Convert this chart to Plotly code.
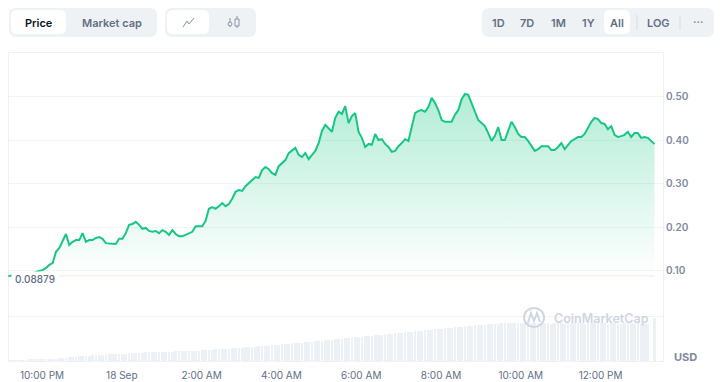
import pandas as pd
import plotly.graph_objects as go

START = "2023-09-17 21:11"
STEP = "5min"
BASELINE = 0.08879
PRICES = [
 .089,.089,.090,.090,.091,.091,.092,.093,.098,.100,.102,.107,.114,.118,.144,.153,.171,.185,.160,.167,
 .171,.171,.187,.167,.171,.171,.176,.178,.174,.164,.163,.162,.162,.174,.174,.187,.206,.208,.213,.206,
 .197,.199,.192,.190,.192,.187,.194,.190,.183,.194,.185,.180,.180,.183,.187,.190,.203,.203,.203,.215,
 .243,.247,.243,.249,.256,.249,.254,.266,.282,.286,.284,.295,.302,.307,.316,.314,.332,.339,.334,.325,
 .321,.341,.348,.355,.371,.378,.383,.367,.362,.371,.357,.367,.376,.394,.422,.436,.429,.420,.452,.466,
 .461,.479,.440,.456,.463,.420,.406,.385,.392,.390,.415,.401,.403,.392,.385,.374,.376,.387,.394,.403,
 .399,.431,.463,.468,.470,.466,.477,.498,.486,.470,.447,.443,.443,.443,.459,.470,.495,.507,.505,.486,
 .470,.447,.440,.433,.417,.399,.410,.431,.401,.401,.422,.443,.431,.415,.408,.408,.399,.387,.376,.380,
 .387,.387,.387,.378,.378,.385,.394,.380,.390,.399,.403,.408,.408,.415,.429,.443,.452,.449,.440,.438,
 .426,.433,.413,.408,.410,.413,.420,.408,.417,.417,.406,.408,.406,.399,.392,
]
VOLUMES = [
 5,5,8,8,10,10,12,12,15,15,
 15,15,18,20,25,28,30,35,40,42,
 45,48,50,52,55,58,60,60,62,65,
 68,68,70,72,72,75,78,80,80,82,
 85,88,88,90,90,92,92,95,95,95,
 98,98,100,100,102,102,105,105,108,110,
 112,115,118,120,120,122,125,128,130,132,
 135,138,140,142,145,148,150,152,155,158,
 160,165,168,170,175,178,180,182,185,188,
 190,195,198,200,205,208,210,215,218,220,
 225,228,232,235,238,240,245,248,250,255,
 258,260,265,268,270,275,278,280,285,288,
 290,295,298,300,305,308,310,315,318,320,
 325,328,330,335,338,340,345,348,350,355,
 358,360,362,365,368,370,372,375,378,380,
 380,382,378,380,382,378,380,378,380,382,
 378,380,378,375,378,380,378,375,378,380,
 378,380,378,375,378,380,382,378,380,378,
 375,378,380,378,375,378,380,378,375,378,
 375,378,375,0,430,
]
Y_TICKS = [0.10, 0.20, 0.30, 0.40, 0.50]
Y_LABELS = ["0.10", "0.20", "0.30", "0.40", "0.50"]
X_TICKS = ["2023-09-17 22:00", "2023-09-18 00:00", "2023-09-18 02:00", "2023-09-18 04:00",
           "2023-09-18 06:00", "2023-09-18 08:00", "2023-09-18 10:00", "2023-09-18 12:00"]
X_LABELS = ["10:00 PM", "18 Sep", "2:00 AM", "4:00 AM", "6:00 AM", "8:00 AM", "10:00 AM", "12:00 PM"]
RANGE_LABELS = ["1D", "7D", "1M", "1Y", "All", "LOG"]

times = pd.date_range(START, periods=len(PRICES), freq=STEP)

L, R, T, B = 9, 663, 53, 361
W, H = 722, 382
FONT = "Inter, Noto Sans, sans-serif"
GREY = "#616e85"
PANEL = "#eff2f5"


def px(x):
    return (x - L) / (R - L)


def py(y):
    return (B - y) / (B - T)


def rrect(x0, y0, x1, y1, r, color):
    p = (f"M {px(x0 + r)} {py(y0)} L {px(x1 - r)} {py(y0)} Q {px(x1)} {py(y0)} {px(x1)} {py(y0 + r)} "
         f"L {px(x1)} {py(y1 - r)} Q {px(x1)} {py(y1)} {px(x1 - r)} {py(y1)} "
         f"L {px(x0 + r)} {py(y1)} Q {px(x0)} {py(y1)} {px(x0)} {py(y1 - r)} "
         f"L {px(x0)} {py(y0 + r)} Q {px(x0)} {py(y0)} {px(x0 + r)} {py(y0)} Z")
    return dict(type="path", xref="paper", yref="paper", path=p, fillcolor=color, line_width=0, layer="below")


def stroke(points, color="#8592a8", width=1):
    p = "M " + " L ".join(f"{px(a)} {py(b)}" for a, b in points)
    return dict(type="path", xref="paper", yref="paper", path=p, line=dict(color=color, width=width))


def label(x, y, text, color=GREY, size=11, weight=600, **kw):
    return dict(xref="paper", yref="paper", x=px(x), y=py(y), text=text, showarrow=False,
                xanchor="center", yanchor="middle",
                font=dict(family=FONT, size=size, color=color, weight=weight), **kw)


fig = go.Figure()
fig.add_trace(go.Bar(x=times, y=VOLUMES, yaxis="y2", marker=dict(color="#edf0f4", line_width=0),
                     width=2.5 * 60 * 1000 * 1.6, hoverinfo="skip"))
fig.add_trace(go.Scatter(x=times, y=[BASELINE] * len(times), mode="lines",
                         line=dict(color="rgba(234,57,67,0.14)", width=1), hoverinfo="skip"))
fig.add_trace(go.Scatter(x=times, y=PRICES, mode="lines", line=dict(color="#16c784", width=2),
                         fill="tonexty",
                         fillgradient=dict(type="vertical", colorscale=[[0, "rgba(22,199,132,0)"],
                                                                        [1, "rgba(22,199,132,0.33)"]]),
                         hoverinfo="skip"))

shapes = [
    rrect(9, 8, 157, 37, 7, PANEL), rrect(11, 10, 66, 34, 6, "#ffffff"),
    rrect(165, 8, 256, 37, 7, PANEL), rrect(167, 10, 209, 34, 6, "#ffffff"),
    rrect(482, 8, 714, 37, 7, PANEL), rrect(604, 10, 630, 34, 6, "#ffffff"),
    stroke([(637, 15), (637, 30)], "#d5dbe5"), stroke([(680, 15), (680, 30)], "#d5dbe5"),
    stroke([(183, 27), (187, 21), (189, 24), (194, 18)]),
    stroke([(230, 18), (230, 27)]), stroke([(237, 16), (237, 28)]),
    dict(type="circle", xref="paper", yref="paper", x0=px(228), x1=px(232), y0=py(26), y1=py(22),
         line=dict(color="#8592a8", width=1), fillcolor=PANEL),
    dict(type="rect", xref="paper", yref="paper", x0=px(235), x1=px(239), y0=py(26), y1=py(19),
         line=dict(color="#8592a8", width=1), fillcolor=PANEL),
    dict(type="circle", xref="paper", yref="paper", x0=px(524), x1=px(544), y0=py(327), y1=py(308),
         line=dict(color="#cfd6e4", width=2)),
    stroke([(528, 323), (531, 313), (534, 321), (537, 313), (540, 322)], "#cfd6e4", 2),
    dict(type="circle", xref="paper", yref="paper", x0=px(8), x1=px(10), y0=py(277), y1=py(275),
         fillcolor="#16c784", line_width=0),
]

annotations = [
    label(39, 22.5, "Price", "#0d1421"),
    label(112, 22.5, "Market cap", GREY),
    label(699, 22, "···", "#8592a8"),
    label(34.5, 278.5, "0.08879", GREY, 10, 500, bgcolor="#ffffff", borderpad=0, width=46, height=14),
    label(685, 357, "USD", "#7e8ba0", 11, 700),
    label(601, 318, "CoinMarketCap", "#cfd6e4", 12.5, 600),
]
for name, x in zip(RANGE_LABELS, [498, 527, 558, 588, 617, 658]):
    annotations.append(label(x, 22.5, name, GREY))

fig.update_layout(
    width=W, height=H, autosize=False,
    margin=dict(l=L, r=W - R, t=T, b=H - B, pad=0, autoexpand=False),
    paper_bgcolor="#ffffff", plot_bgcolor="#ffffff",
    showlegend=False, hovermode=False, bargap=0,
    shapes=shapes, annotations=annotations,
    xaxis=dict(type="date", range=["2023-09-17 21:10:22", "2023-09-18 13:33:50"], automargin=False,
               tickmode="array", tickvals=X_TICKS, ticktext=X_LABELS, ticks="", showgrid=False,
               ticklabelstandoff=5,
               tickfont=dict(family=FONT, size=10, color=GREY), showline=True, linecolor=PANEL,
               mirror=True, zeroline=False),
    yaxis=dict(range=[-0.1069, 0.6011], side="right", tickmode="array", tickvals=Y_TICKS, ticktext=Y_LABELS,
               automargin=False, ticks="", gridcolor="#f3f4f6", gridwidth=1, zeroline=False, showline=True,
               linecolor=PANEL, mirror=True, tickfont=dict(family=FONT, size=10, color="#7e8ba0", weight=600)),
    yaxis2=dict(range=[0, 3080], overlaying="y", side="left", tickmode="array", tickvals=[450], automargin=False,
                showticklabels=False, ticks="", gridcolor="#f3f4f6", gridwidth=1, zeroline=False),
)

fig.write_html("out.html", config=dict(displayModeBar=False, responsive=False),
               post_script="document.body.style.margin='0';")
